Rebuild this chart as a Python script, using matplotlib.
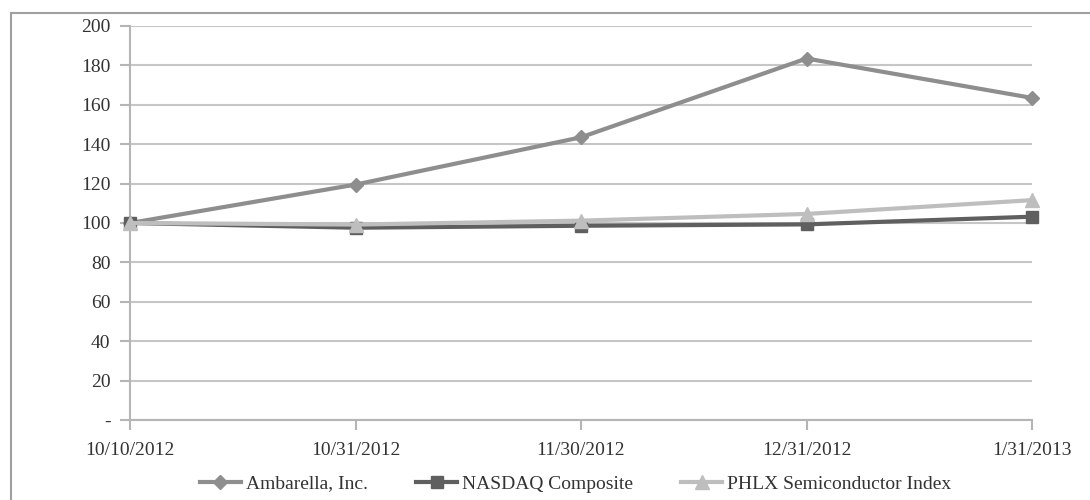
import matplotlib.pyplot as plt
from matplotlib.lines import Line2D

# data
dates = ['10/10/2012', '10/31/2012', '11/30/2012', '12/31/2012', '1/31/2013']
ambarella = [100, 119.5, 143.5, 183.5, 163.5]
nasdaq = [100, 97.6, 98.6, 99.3, 103.2]
phlx = [100, 99.2, 101.2, 104.6, 111.6]
yticks = [0, 20, 40, 60, 80, 100, 120, 140, 160, 180, 200]
ylabels = ['-', '20', '40', '60', '80', '100', '120', '140', '160', '180', '200']

plt.rcParams['font.family'] = ['Liberation Serif', 'DejaVu Serif']
plt.rcParams['font.size'] = 14

fig = plt.figure(figsize=(10.9, 5), dpi=100)
ax = fig.add_axes([130/1090, 1-420/500, (1032-130)/1090, (420-26)/500])

x = range(len(dates))
ax.plot(x, ambarella, color='#8e8e8e', lw=3, marker='D', ms=7, label='Ambarella, Inc.', zorder=3, clip_on=False)
ax.plot(x, nasdaq, color='#5f5f5f', lw=3, marker='s', ms=9, label='NASDAQ Composite', zorder=3, clip_on=False)
ax.plot(x, phlx, color='#bebebe', lw=3, marker='^', ms=10, label='PHLX Semiconductor Index', zorder=4, clip_on=False)

ax.set_xlim(0, len(dates)-1)
ax.set_ylim(0, 200)
ax.set_xticks(list(x))
ax.set_xticklabels(dates, color='#333333')
ax.set_yticks(yticks)
ax.set_yticklabels(ylabels, color='#333333')
ax.yaxis.grid(True, color='#c6c6c6', lw=1.5)
ax.set_axisbelow(True)
for s in ['top', 'right']:
    ax.spines[s].set_visible(False)
for s in ['left', 'bottom']:
    ax.spines[s].set_color('#b5b5b5')
    ax.spines[s].set_linewidth(1.5)
ax.tick_params(axis='both', color='#b5b5b5', width=1.5, length=7)
ax.tick_params(axis='x', pad=9)
ax.tick_params(axis='y', pad=7)

ax.legend(loc='upper center', bbox_to_anchor=(0.494, -0.095), ncol=3, frameon=False,
          handlelength=2.1, handletextpad=0.25, columnspacing=2.5, fontsize=14,
          labelcolor='#333333')

# outer frame: left and top edges only
fig.add_artist(Line2D([11/1090, 11/1090], [0, 1-13/500], color='#a0a0a0', lw=1.5))
fig.add_artist(Line2D([11/1090, 1], [1-13/500, 1-13/500], color='#a0a0a0', lw=1.5))

fig.savefig('out.png', dpi=100)
